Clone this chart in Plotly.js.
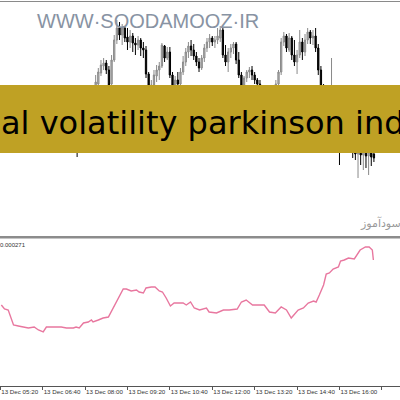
<!DOCTYPE html>
<html><head><meta charset="utf-8">
<script src="https://cdn.plot.ly/plotly-3.0.1.min.js"></script>
<style>html,body{margin:0;padding:0;background:#fff;overflow:hidden}#chart{width:400px;height:400px}</style>
</head><body><div id="chart"></div>
<script>
const day = '2021-12-13';
const barStart = '05:20';
const barStepMinutes = 5;

const open = [1.13370,1.13374,1.13368,1.13372,1.13378,1.13375,1.13382,1.13379,1.13372,1.13366,
1.13370,1.13376,1.13381,1.13377,1.13372,1.13374,1.13369,1.13364,1.13367,1.13362,
1.13358,1.13361,1.13357,1.13360,1.13364,1.13360,1.13356,1.13359,1.13354,1.13357,
1.13352,1.13360,1.13368,1.13376,1.13385,1.13396,1.13405,1.13416,1.13427,1.13434,
1.13437,1.13430,1.13416,1.13440,1.13460,1.13472,1.13465,1.13472,1.13463,1.13458,
1.13464,1.13457,1.13455,1.13460,1.13452,1.13450,1.13426,1.13400,1.13415,1.13424,
1.13430,1.13434,1.13454,1.13442,1.13448,1.13425,1.13412,1.13420,1.13416,1.13428,
1.13438,1.13448,1.13454,1.13450,1.13444,1.13438,1.13432,1.13442,1.13452,1.13458,
1.13462,1.13458,1.13460,1.13462,1.13470,1.13445,1.13438,1.13448,1.13452,1.13456,
1.13440,1.13425,1.13415,1.13422,1.13428,1.13430,1.13425,1.13420,1.13416,1.13410,
1.13400,1.13390,1.13395,1.13402,1.13408,1.13416,1.13428,1.13458,1.13464,1.13450,
1.13462,1.13445,1.13438,1.13445,1.13458,1.13448,1.13460,1.13468,1.13462,1.13464,
1.13452,1.13430,1.13405,1.13390,1.13385,1.13388,1.13395,1.13385,1.13370,1.13360,
1.13365,1.13355,1.13360,1.13352,1.13350,1.13346,1.13352,1.13345,1.13350,1.13344,
1.13348,1.13346];
const high = [1.13378,1.13380,1.13375,1.13382,1.13384,1.13386,1.13388,1.13383,1.13376,1.13374,
1.13380,1.13385,1.13387,1.13382,1.13379,1.13378,1.13373,1.13371,1.13372,1.13366,
1.13365,1.13364,1.13363,1.13368,1.13369,1.13364,1.13362,1.13363,1.13360,1.13361,
1.13364,1.13372,1.13380,1.13390,1.13400,1.13410,1.13425,1.13432,1.13440,1.13442,
1.13440,1.13434,1.13445,1.13465,1.13480,1.13478,1.13476,1.13474,1.13472,1.13470,
1.13467,1.13462,1.13464,1.13462,1.13458,1.13454,1.13428,1.13420,1.13430,1.13435,
1.13438,1.13457,1.13455,1.13453,1.13453,1.13428,1.13424,1.13428,1.13432,1.13444,
1.13452,1.13458,1.13460,1.13456,1.13448,1.13442,1.13445,1.13456,1.13462,1.13466,
1.13464,1.13464,1.13472,1.13474,1.13472,1.13455,1.13452,1.13456,1.13458,1.13458,
1.13448,1.13428,1.13424,1.13430,1.13433,1.13434,1.13428,1.13422,1.13420,1.13414,
1.13405,1.13400,1.13406,1.13412,1.13420,1.13430,1.13462,1.13468,1.13466,1.13467,
1.13464,1.13460,1.13450,1.13470,1.13462,1.13466,1.13472,1.13470,1.13470,1.13472,
1.13456,1.13434,1.13416,1.13400,1.13405,1.13442,1.13400,1.13390,1.13380,1.13375,
1.13372,1.13368,1.13365,1.13360,1.13360,1.13360,1.13358,1.13355,1.13356,1.13354,
1.13352,1.13350];
const low = [1.13366,1.13364,1.13362,1.13369,1.13370,1.13372,1.13374,1.13368,1.13362,1.13360,
1.13366,1.13372,1.13373,1.13367,1.13368,1.13364,1.13360,1.13358,1.13357,1.13354,
1.13353,1.13352,1.13351,1.13355,1.13354,1.13351,1.13350,1.13349,1.13348,1.13343,
1.13349,1.13355,1.13364,1.13372,1.13382,1.13392,1.13402,1.13412,1.13424,1.13430,
1.13426,1.13412,1.13413,1.13438,1.13456,1.13460,1.13455,1.13458,1.13450,1.13452,
1.13448,1.13445,1.13450,1.13444,1.13442,1.13422,1.13395,1.13394,1.13410,1.13418,
1.13420,1.13432,1.13438,1.13440,1.13422,1.13408,1.13405,1.13412,1.13414,1.13425,
1.13434,1.13442,1.13444,1.13440,1.13434,1.13428,1.13430,1.13438,1.13448,1.13452,
1.13454,1.13452,1.13456,1.13458,1.13442,1.13434,1.13428,1.13442,1.13446,1.13436,
1.13422,1.13410,1.13410,1.13418,1.13422,1.13420,1.13416,1.13412,1.13405,1.13395,
1.13385,1.13382,1.13390,1.13398,1.13404,1.13410,1.13425,1.13454,1.13448,1.13448,
1.13440,1.13434,1.13426,1.13442,1.13440,1.13444,1.13456,1.13456,1.13455,1.13448,
1.13425,1.13400,1.13385,1.13380,1.13375,1.13380,1.13375,1.13360,1.13335,1.13350,
1.13348,1.13350,1.13348,1.13342,1.13340,1.13322,1.13335,1.13330,1.13332,1.13325,
1.13334,1.13338];
const close = [1.13374,1.13368,1.13372,1.13378,1.13375,1.13382,1.13379,1.13372,1.13366,1.13370,
1.13376,1.13381,1.13377,1.13372,1.13374,1.13369,1.13364,1.13367,1.13362,1.13358,
1.13361,1.13357,1.13360,1.13364,1.13360,1.13356,1.13359,1.13354,1.13357,1.13352,
1.13360,1.13368,1.13376,1.13385,1.13396,1.13405,1.13418,1.13428,1.13435,1.13437,
1.13430,1.13415,1.13440,1.13460,1.13472,1.13465,1.13472,1.13462,1.13458,1.13464,
1.13457,1.13455,1.13460,1.13452,1.13450,1.13426,1.13400,1.13415,1.13425,1.13430,
1.13434,1.13455,1.13442,1.13448,1.13425,1.13412,1.13420,1.13416,1.13428,1.13438,
1.13448,1.13454,1.13450,1.13444,1.13438,1.13432,1.13442,1.13452,1.13458,1.13462,
1.13458,1.13460,1.13464,1.13470,1.13445,1.13438,1.13448,1.13452,1.13456,1.13440,
1.13425,1.13415,1.13422,1.13428,1.13430,1.13425,1.13420,1.13416,1.13410,1.13400,
1.13390,1.13395,1.13402,1.13408,1.13416,1.13428,1.13458,1.13464,1.13452,1.13462,
1.13445,1.13438,1.13445,1.13458,1.13448,1.13460,1.13468,1.13462,1.13464,1.13452,
1.13430,1.13405,1.13390,1.13385,1.13388,1.13395,1.13385,1.13370,1.13360,1.13365,
1.13355,1.13360,1.13352,1.13350,1.13346,1.13352,1.13345,1.13350,1.13344,1.13348,
1.13343,1.13342];

const volTimes = ['05:22','05:28','05:35','05:40','05:45','05:54','06:05','06:13','06:24','06:32','06:41','06:47',
'07:00','07:15','07:25','07:38','07:43','07:49','07:57','08:06','08:12','08:15','08:25','08:34','08:44','08:49','08:55',
'09:03','09:12','09:18','09:27','09:37','09:42','09:50','09:55','10:05','10:12','10:20','10:26','10:33','10:41','10:48','10:58',
'11:05','11:11','11:19','11:26','11:36','11:49','11:54','12:08','12:21','12:32','12:47','12:55',
'13:04','13:16','13:29','13:38','13:48','13:59','14:10','14:20','14:29','14:42','14:52',
'15:01','15:11','15:16','15:22','15:30','15:35','15:41','15:48','15:58','16:02','16:09','16:17','16:28','16:39','16:49','16:56','17:02','17:04'];
const volValues = [0.000181,0.000173,0.000171,0.000157,0.000141,0.000139,0.000137,0.000135,0.000137,0.000131,0.000127,0.000137,
0.000137,0.000137,0.000135,0.000135,0.000137,0.000135,0.000145,0.000147,0.000151,0.000147,0.000151,0.000155,0.000157,0.000167,0.000181,
0.000195,0.000213,0.000213,0.000209,0.000211,0.000207,0.000205,0.000215,0.000217,0.000217,0.000209,0.000207,0.000195,0.000179,0.000185,0.000185,
0.000185,0.000181,0.000187,0.000175,0.000171,0.000175,0.000167,0.000165,0.000171,0.000171,0.000173,0.000187,
0.000191,0.000181,0.000181,0.000181,0.000167,0.000165,0.000177,0.000171,0.000155,0.000171,0.000175,
0.000185,0.000189,0.000187,0.000201,0.000221,0.000243,0.000245,0.000253,0.000257,0.000269,0.000271,0.000275,0.000273,0.000291,0.000297,0.000297,0.000291,0.000271];

const currentValueLabel = '0.000271';
const bannerText = 'al volatility parkinson ind';
const watermarkText = 'WWW·SOODAMOOZ·IR';
const watermarkFa = 'سودآموز';
const tickStart = '05:20';
const tickStepMinutes = 80;

function pad(n){ return String(n).padStart(2,'0'); }
function timeAt(start, addMin){
  const p = start.split(':').map(Number);
  const t = p[0]*60 + p[1] + addMin;
  return day + ' ' + pad(Math.floor(t/60)) + ':' + pad(t%60);
}
const barTimes = open.map((_, i) => timeAt(barStart, i*barStepMinutes));
const volX = volTimes.map(t => day + ' ' + t);

const PH = 386;               // plot-area height in px
const py = p => (PH - p) / PH; // page px -> paper y

const traces = [
  {type:'candlestick', x:barTimes, open:open, high:high, low:low, close:close,
   xaxis:'x', yaxis:'y', whiskerwidth:0, hoverinfo:'skip', showlegend:false,
   increasing:{line:{color:'#8a8a8a', width:1}, fillcolor:'#b4b4b4'},
   decreasing:{line:{color:'#000000', width:1}, fillcolor:'#000000'}},
  {type:'scatter', mode:'lines', x:volX, y:volValues, xaxis:'x', yaxis:'y2',
   line:{color:'#e8779f', width:1.4}, hoverinfo:'skip', showlegend:false}
];

const layout = {
  width:400, height:400,
  margin:{l:0, r:0, t:0, b:14, pad:0},
  paper_bgcolor:'#ffffff', plot_bgcolor:'#ffffff',
  showlegend:false,
  xaxis:{type:'date', anchor:'y2', range:[day+' 05:19:30', day+' 17:54:12'],
    tick0: timeAt(tickStart,0), dtick: tickStepMinutes*60000, tickformat:'%d %b %H:%M',
    tickangle:0,
    ticks:'outside', ticklen:3, tickwidth:1, tickcolor:'#555',
    showline:true, linecolor:'#555', linewidth:1, showgrid:false, zeroline:false,
    ticklabelposition:'outside right', ticklabelstandoff:0,
    tickfont:{family:'Liberation Sans', size:6.2, color:'#333'},
    rangeslider:{visible:false}, fixedrange:true},
  yaxis:{domain:[py(235), py(3)], range:[1.13265, 1.13497], visible:false, fixedrange:true},
  yaxis2:{domain:[0, py(240)], range:[0.000019, 0.000311], visible:false, fixedrange:true},
  shapes:[
    {type:'line', xref:'paper', yref:'paper', x0:0, x1:1, y0:py(1.5), y1:py(1.5), line:{color:'#8a8a8a', width:1}},
    {type:'line', xref:'paper', yref:'paper', x0:0, x1:1, y0:py(237.2), y1:py(237.2), line:{color:'#8c8c8c', width:2.4}},
    {type:'rect', xref:'paper', yref:'paper', x0:-0.01, x1:1.01, y0:py(153), y1:py(85), fillcolor:'#bfa124', line:{width:0}, layer:'above'}
  ],
  annotations:[
    {text:watermarkText, xref:'paper', yref:'paper', x:148/400, y:py(21.5), xanchor:'center', yanchor:'middle', showarrow:false,
     font:{family:'Liberation Sans', size:20, color:'#8893a3'}},
    {text:bannerText, xref:'paper', yref:'paper', x:0, y:py(123), xanchor:'left', yanchor:'middle', xshift:-1, showarrow:false,
     font:{family:'DejaVu Sans', size:32, color:'#000000'}},
    {text:watermarkFa, xref:'paper', yref:'paper', x:403/400, y:py(223), xanchor:'right', yanchor:'middle', showarrow:false,
     font:{family:'DejaVu Sans', size:11, color:'#9a9a9a'}},
    {text:currentValueLabel, xref:'paper', yref:'paper', x:0, y:py(244.5), xanchor:'left', yanchor:'middle', xshift:-2, showarrow:false,
     font:{family:'Liberation Sans', size:6, color:'#333'}}
  ]
};

Plotly.newPlot('chart', traces, layout, {staticPlot:true, displayModeBar:false});
</script>
</body></html>
